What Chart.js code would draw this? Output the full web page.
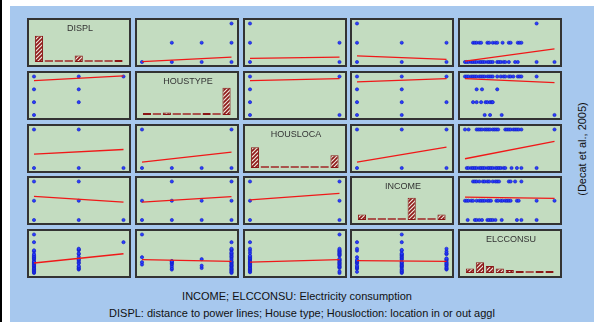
<!DOCTYPE html>
<html>
<head>
<meta charset="utf-8">
<script src="https://cdn.jsdelivr.net/npm/chart.js@4.4.1/dist/chart.umd.min.js"></script>
<style>
  body { margin: 0; width: 594px; height: 322px; background: #fff; overflow: hidden; position: relative;
         font-family: "Liberation Sans", Arial, sans-serif; }
  #edge { position: absolute; left: 0; top: 0; width: 2px; height: 322px; background: #000; }
  #frame { position: absolute; left: 10px; top: 6px; width: 584px; height: 316px; background: #a7c8ee; }
  .panel { position: absolute; width: 104px; height: 49px; box-sizing: border-box;
           background: #c3dcc0; border: 2px solid #333; }
  .panel canvas { position: absolute; left: -2px; top: -2px; }
  .ttl { position: absolute; left: 1px; width: 100%; top: 3px; font-size: 9px; line-height: 10px;
         text-align: center; color: #333; }
  .note { position: absolute; font-size: 11px; line-height: 13px; text-align: center; color: #111; white-space: nowrap; }
  #src { position: absolute; left: 582px; top: 149px; font-size: 11px; color: #111; white-space: nowrap;
         transform: translate(-50%, -50%) rotate(-90deg); }
</style>
</head>
<body>
<div id="edge"></div>
<div id="frame"></div>
<div id="grid"></div>
<div class="note" style="left:0; width:594px; top:290px;">INCOME; ELCCONSU: Electricity consumption</div>
<div class="note" style="left:10px; width:584px; top:307px;">DISPL: distance to power lines; House type; Housloction: location in or out aggl</div>
<div id="src">(Decat et al., 2005)</div>

<script>
// variables of the matrix
const varNames = ['DISPL', 'HOUSTYPE', 'HOUSLOCA', 'INCOME', 'ELCCONSU'];
const varMin = [1, 1, 0, 1, 0];
const varMax = [3, 4, 1, 3, 100];
const displLevels = [1, 2, 3];
const houstypeLevels = [1, 2, 3, 4];
const houslocaLevels = [0, 1];
const incomeLevels = [1, 2, 3];

// combinations seen between the discrete variables [a, b]
const displHoustype = [[1, 1], [1, 2], [1, 3], [1, 4], [2, 2], [2, 3], [2, 4], [3, 4]];
const displHousloca = [[1, 0], [1, 1], [2, 0], [2, 1], [3, 0]];
const displIncome = [[1, 1], [1, 2], [1, 3], [2, 1], [2, 2], [2, 3], [3, 1]];
const houstypeHousloca = [[1, 0], [2, 0], [3, 0], [4, 0], [1, 1], [4, 1]];
const houstypeIncome = [[1, 1], [2, 1], [3, 1], [4, 1], [1, 2], [2, 2], [3, 2], [4, 2], [2, 3], [4, 3]];
const houslocaIncome = [[0, 1], [0, 2], [0, 3], [1, 1], [1, 2], [1, 3]];

// ELCCONSU values (index 0-100) found at each level of the other variable
const elcByDispl = [
  [0, 2, 4, 7, 9, 11, 13, 16, 18, 20, 22, 25, 27, 29, 31, 36, 38, 40, 43, 45, 49, 56, 59, 80, 100],
  [9, 11, 13, 16, 18, 25, 27, 31, 34, 36, 42, 49, 51, 59, 61, 63],
  [80]
];
const elcByHoustype = [
  [22, 28, 41, 100],
  [9, 13, 18, 23, 25, 28, 30, 31],
  [13, 19, 36],
  [0, 2, 4, 7, 9, 11, 13, 16, 18, 20, 22, 25, 27, 29, 31, 36, 40, 43, 45, 49, 51, 54, 59, 61, 63, 80]
];
const elcByHousloca = [
  [2, 4, 7, 9, 11, 13, 16, 18, 20, 22, 25, 27, 29, 31, 34, 36, 38, 40, 43, 45, 52, 58, 63, 80],
  [0, 4, 13, 15, 17, 19, 22, 24, 26, 28, 31, 33, 35, 37, 45, 47, 49, 51, 54, 56, 58, 60, 63, 100]
];
const elcByIncome = [
  [3, 11, 13, 16, 19, 25, 27, 29, 31, 34, 41, 58, 63, 80],
  [0, 2, 4, 7, 9, 13, 16, 18, 20, 22, 25, 27, 29, 35, 37, 40, 42, 45, 47, 49, 51, 58, 60, 80, 100],
  [9, 11, 13, 16, 20, 22, 25, 27, 31, 34, 36, 38, 49, 51, 56, 63]
];

// histograms on the diagonal (9 bins, counts)
const histBins = ['1', '2', '3', '4', '5', '6', '7', '8', '9'];
const histDispl = [52, 0, 0, 0, 13, 0, 0, 0, 1];
const histHoustype = [4, 0, 5, 0, 0, 0, 3, 0, 54];
const histHousloca = [41, 0, 0, 0, 0, 0, 0, 0, 25];
const histIncome = [11, 0, 0, 0, 0, 44, 0, 0, 11];
const histElcconsu = [9, 21, 14, 9, 6, 4, 0, 2, 1];
const histMax = 76;

// fitted line: y at min x and at max x, [row][col]
const fitLines = [
  [null, [1.02, 1.25], [1.19, 1.25], [1.32, 1.14], [1.05, 1.68]],
  [[3.68, 4.05], null, [3.68, 3.84], [3.58, 3.84], [3.84, 3.53]],
  [[0.36, 0.48], [0.15, 0.41], null, [0.15, 0.54], [0.24, 0.69]],
  [[2.23, 1.93], [1.93, 2.21], [2.05, 2.38], null, [2.19, 2.12]],
  [[26, 50], [35, 30], [28, 35], [32, 30], null]
];

// build pair tables keyed by "a-b" with a < b, entries [value a, value b]
function fromElc(levels, lists) {
  const out = [];
  lists.forEach((vals, k) => vals.forEach(v => out.push([levels[k], v])));
  return out;
}
const pairs = {
  '0-1': displHoustype, '0-2': displHousloca, '0-3': displIncome,
  '1-2': houstypeHousloca, '1-3': houstypeIncome, '2-3': houslocaIncome,
  '0-4': fromElc(displLevels, elcByDispl),
  '1-4': fromElc(houstypeLevels, elcByHoustype),
  '2-4': fromElc(houslocaLevels, elcByHousloca),
  '3-4': fromElc(incomeLevels, elcByIncome)
};
const hists = [histDispl, histHoustype, histHousloca, histIncome, histElcconsu];

// hatched fill for the histogram bars
function hatch() {
  const c = document.createElement('canvas');
  c.width = 4; c.height = 4;
  const g = c.getContext('2d');
  g.fillStyle = '#efe6dc';
  g.fillRect(0, 0, 4, 4);
  g.strokeStyle = '#8e1717';
  g.lineWidth = 1.6;
  g.beginPath();
  g.moveTo(0, 4); g.lineTo(4, 0);
  g.moveTo(-1, 1); g.lineTo(1, -1);
  g.moveTo(3, 5); g.lineTo(5, 3);
  g.stroke();
  return g.createPattern(c, 'repeat');
}
const hatchFill = hatch();

const pad = { left: 7, right: 7.5, top: 5.5, bottom: 5 };
const base = {
  responsive: false, animation: false, events: [], devicePixelRatio: 1,
  layout: { padding: pad },
  plugins: { legend: { display: false }, tooltip: { enabled: false } }
};

const grid = document.getElementById('grid');
for (let r = 0; r < 5; r++) {
  for (let c = 0; c < 5; c++) {
    const div = document.createElement('div');
    div.className = 'panel';
    div.style.left = Math.round(27 + c * 107.75) + 'px';
    div.style.top = Math.round(18 + r * 52.75) + 'px';
    const cv = document.createElement('canvas');
    cv.width = 104; cv.height = 49;
    cv.style.width = '104px'; cv.style.height = '49px';
    div.appendChild(cv);
    grid.appendChild(div);

    if (r === c) {
      const t = document.createElement('div');
      t.className = 'ttl';
      t.textContent = varNames[r];
      div.appendChild(t);
      new Chart(cv, {
        type: 'bar',
        data: {
          labels: histBins,
          datasets: [{
            data: hists[r],
            backgroundColor: ctx => ctx.raw === 0 ? '#a9534c' : hatchFill,
            borderColor: '#8a1616',
            borderWidth: ctx => ctx.raw === 0 ? 0 : 1,
            borderSkipped: false,
            minBarLength: 2,
            barPercentage: 1,
            categoryPercentage: 0.82
          }]
        },
        options: Object.assign({}, base, {
          scales: {
            x: { display: false },
            y: { display: false, min: 0, max: histMax }
          }
        })
      });
      continue;
    }

    const key = r < c ? r + '-' + c : c + '-' + r;
    const pts = pairs[key].map(p => r < c ? { x: p[1], y: p[0] } : { x: p[0], y: p[1] });
    const fit = fitLines[r][c];
    new Chart(cv, {
      type: 'scatter',
      data: {
        datasets: [
          {
            type: 'line',
            data: [{ x: varMin[c], y: fit[0] }, { x: varMax[c], y: fit[1] }],
            borderColor: '#f01818', borderWidth: 1.3, pointRadius: 0, clip: false, order: 0
          },
          {
            data: pts,
            pointRadius: 1.6, pointBackgroundColor: '#2a3cff', pointBorderColor: '#0b18c0',
            pointBorderWidth: 0.6, clip: false, order: 1
          }
        ]
      },
      options: Object.assign({}, base, {
        scales: {
          x: { type: 'linear', display: false, min: varMin[c], max: varMax[c] },
          y: { type: 'linear', display: false, min: varMin[r], max: varMax[r] }
        }
      })
    });
  }
}
</script>
</body>
</html>
